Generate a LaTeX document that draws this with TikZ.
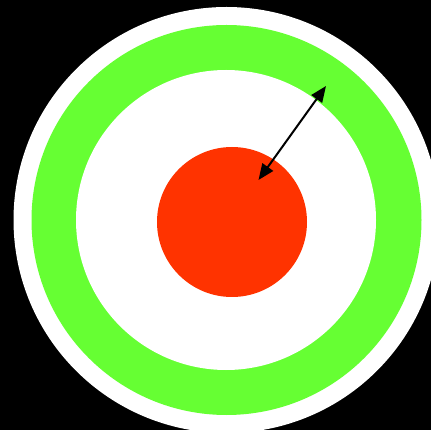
\documentclass[tikz,border=0pt]{standalone}
\usepackage{xcolor}
\usepackage{tikz}
\usetikzlibrary{arrows.meta}

\definecolor{ringgreen}{HTML}{66FF33}
\definecolor{dotred}{HTML}{FF3300}

\begin{document}
\begin{tikzpicture}[x=1pt, y=-1pt, >={Triangle[length=16pt, width=13pt]}]
  % Background
  \fill[black] (0,0) rectangle (431,430);
  \useasboundingbox (0,0) rectangle (431,430);
  \clip (0,0) rectangle (431,430);
  % Outer white disc and green ring
  \fill[white] (226.5,220) circle[radius=213pt];
  \fill[ringgreen] (226.5,220) circle[radius=195pt];
  \fill[white] (226,220) circle[radius=150pt];
  % Red centre disc
  \fill[dotred] (232,222) circle[radius=75pt];
  % Double arrow between disc and ring
  \coordinate (rimend) at (326,86);
  \coordinate (dotend) at (258.5,180);
  \draw[<->, line width=2pt] (dotend) -- (rimend);
\end{tikzpicture}
\end{document}
